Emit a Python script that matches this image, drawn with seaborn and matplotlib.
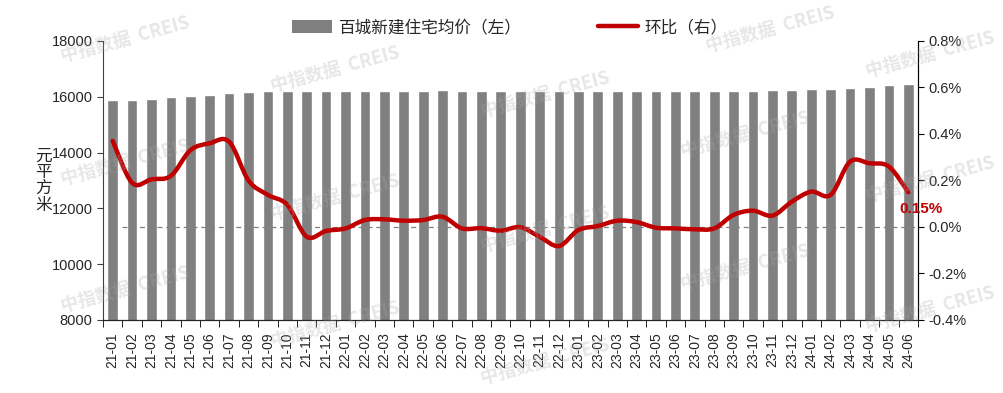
import numpy as np
import pandas as pd
import matplotlib
matplotlib.use("Agg")
import matplotlib.pyplot as plt
import seaborn as sns
from matplotlib.path import Path
from matplotlib.patches import PathPatch, Patch
from matplotlib.lines import Line2D

sns.set_style("ticks")
plt.rcParams["font.family"] = ["Liberation Sans", "Noto Sans CJK SC", "DejaVu Sans"]

months = [
    "21-01", "21-02", "21-03", "21-04", "21-05", "21-06", "21-07", "21-08", "21-09", "21-10", "21-11", "21-12",
    "22-01", "22-02", "22-03", "22-04", "22-05", "22-06", "22-07", "22-08", "22-09", "22-10", "22-11", "22-12",
    "23-01", "23-02", "23-03", "23-04", "23-05", "23-06", "23-07", "23-08", "23-09", "23-10", "23-11", "23-12",
    "24-01", "24-02", "24-03", "24-04", "24-05", "24-06",
]
price = [
    15884, 15890, 15934, 15980, 16025, 16072, 16122, 16172, 16203, 16210, 16203, 16200,
    16199, 16204, 16210, 16214, 16219, 16226, 16225, 16224, 16221, 16221, 16214, 16201,
    16199, 16200, 16204, 16208, 16207, 16206, 16204, 16203, 16211, 16222, 16230, 16248,
    16262, 16275, 16318, 16360, 16405, 16450,
]
mom = [
    0.37, 0.19, 0.205, 0.22, 0.33, 0.36, 0.367, 0.20, 0.138, 0.095, -0.042, -0.017,
    -0.006, 0.03, 0.033, 0.027, 0.03, 0.044, -0.006, -0.005, -0.016, -0.001, -0.042, -0.082,
    -0.013, 0.004, 0.027, 0.021, -0.003, -0.006, -0.01, -0.006, 0.052, 0.07, 0.049, 0.109,
    0.152, 0.138, 0.281, 0.274, 0.26, 0.15,
]

BAR = "#808080"
RED = "#C00000"

df = pd.DataFrame({"month": months, "price": price, "mom": mom})

fig = plt.figure(figsize=(10.04, 3.93), dpi=100)
ax = fig.add_axes([0.1026, 0.1858, 0.8117, 0.7099])

sns.barplot(data=df, x="month", y="price", color=BAR, width=0.55, saturation=1, ax=ax)
ax.set_ylim(8000, 18000)
ax.set_yticks(range(8000, 18001, 2000))
ax.set_xlim(-0.5, len(months) - 0.5)
ax.set_xlabel("")
ax.set_ylabel("")
ax.set_xticks(range(len(months)))
ax.set_xticklabels(months, rotation=90, fontsize=10)
ax.set_xticks(np.arange(-0.5, len(months), 1), minor=True)
ax.tick_params(axis="x", which="major", length=0, pad=9)
ax.tick_params(axis="x", which="minor", length=5, direction="out", color="black")
ax.tick_params(axis="y", labelsize=10.5, length=4, direction="out", color="#404040")
ax.spines["top"].set_visible(False)
ax.spines["left"].set_color("#404040")
ax.spines["bottom"].set_color("black")

ax.text(-0.073, 0.5, "元\n平\n方\n米", transform=ax.transAxes, fontsize=12,
        ha="center", va="center", linespacing=0.95, family=["Noto Sans CJK SC"])

# secondary axis: month-on-month change
ax2 = ax.twinx()
ax2.set_ylim(-0.4, 0.8)
ax2.set_yticks(np.arange(-0.4, 0.81, 0.2))
ax2.set_yticklabels([f"{v:.1f}%" for v in np.arange(-0.4, 0.81, 0.2)])
ax2.tick_params(axis="y", labelsize=10.5, length=4, direction="out", color="black")
ax2.spines["top"].set_visible(False)
ax2.spines["right"].set_color("black")
ax2.spines["left"].set_visible(False)

ax2.hlines(0, 0.5, len(months) - 0.5, colors="#808080", linestyles=(0, (4, 3)), linewidth=0.9, zorder=2)

# smoothed line through the points (Catmull-Rom as cubic Bezier)
xs = np.arange(len(mom), dtype=float)
ys = np.array(mom)
px = np.concatenate([[xs[0]], xs, [xs[-1]]])
py = np.concatenate([[ys[0]], ys, [ys[-1]]])
verts = [(xs[0], ys[0])]
codes = [Path.MOVETO]
for i in range(1, len(px) - 2):
    c1 = (px[i] + (px[i + 1] - px[i - 1]) / 6, py[i] + (py[i + 1] - py[i - 1]) / 6)
    c2 = (px[i + 1] - (px[i + 2] - px[i]) / 6, py[i + 1] - (py[i + 2] - py[i]) / 6)
    verts += [c1, c2, (px[i + 1], py[i + 1])]
    codes += [Path.CURVE4] * 3
ax2.add_patch(PathPatch(Path(verts, codes), fill=False, edgecolor=RED, linewidth=3.2,
                        capstyle="round", joinstyle="round", zorder=5))

ax2.annotate(f"{mom[-1]:.2f}%", (len(mom) - 1, mom[-1]), xytext=(9, -12), textcoords="offset points",
             ha="center", va="center", color=RED, fontsize=11, fontweight="bold", zorder=6)

# watermarks
wm = [(125, 40), (335, 70), (545, 95), (770, 30), (930, 55),
      (125, 163), (335, 198), (545, 230), (745, 135), (930, 180),
      (125, 290), (335, 325), (545, 362), (745, 268), (930, 310)]
for x, y in wm:
    fig.text(x / 1004, 1 - y / 393, "中指数据  CREIS", fontsize=13, fontweight="bold",
             color="#a8a8a8", alpha=0.28, rotation=15, ha="center", va="center",
             family=["Noto Sans CJK SC"], zorder=10)

handles = [Patch(facecolor=BAR, edgecolor="none"), Line2D([0], [0], color=RED, linewidth=3.2)]
fig.legend(handles, ["百城新建住宅均价（左）", "环比（右）"], loc="center", bbox_to_anchor=(0.508, 0.93),
           ncol=2, frameon=False, fontsize=12, handlelength=2.4, handleheight=0.8,
           columnspacing=4.6, handletextpad=0.4, prop={"family": ["Noto Sans CJK SC"], "size": 12})

fig.savefig("out.png", dpi=100)
